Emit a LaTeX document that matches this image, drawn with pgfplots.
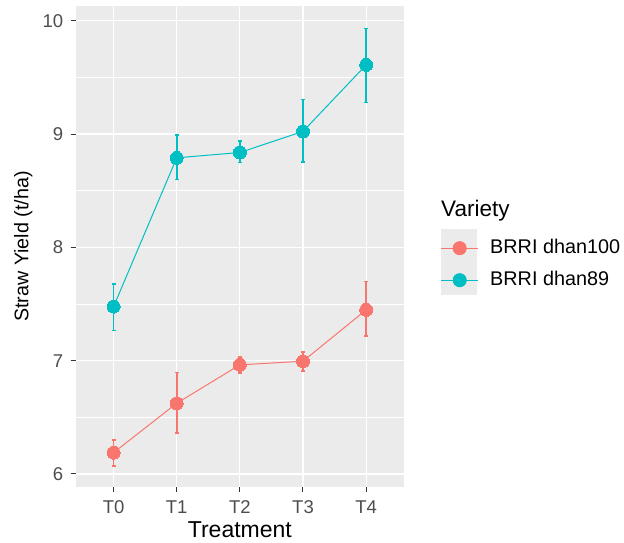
\documentclass[border=0pt]{standalone}
\usepackage{pgfplots}
\pgfplotsset{compat=1.18}
\usepackage{fontspec}
\setmainfont{Liberation Sans}
\definecolor{cA}{HTML}{F8766D}
\definecolor{cB}{HTML}{00BFC4}
\definecolor{panel}{HTML}{EBEBEB}
\definecolor{tickc}{HTML}{4D4D4D}
\definecolor{tickm}{HTML}{333333}
\begin{document}
\begin{tikzpicture}[x=1bp,y=1bp]
\path[use as bounding box] (0,0) rectangle (624,543);
\fill[panel] (440.7,248) rectangle (477.3,314);
\node[anchor=base west, inner sep=0pt, font=\fontsize{22.5bp}{26bp}\selectfont] at (441,326.3) {Variety};
\begin{axis}[
  at={(75.7bp,56bp)}, anchor=south west, scale only axis,
  width=328.3bp, height=481bp,
  xmin=-0.6, xmax=4.6, ymin=5.885, ymax=10.13,
  axis background/.style={fill=panel},
  axis line style={draw=none},
  xtick={0,1,2,3,4}, xticklabels={T0,T1,T2,T3,T4},
  ytick={6,7,8,9,10}, minor ytick={6.5,7.5,8.5,9.5},
  grid=both,
  major grid style={white, line width=1.1bp},
  minor grid style={white, line width=0.55bp},
  tick align=outside, tick pos=left,
  major tick length=5bp, minor tick length=0pt,
  every tick/.style={tickm, line width=1bp},
  /pgf/number format/assume math mode=true,
  yticklabel style={font=\fontsize{18.5bp}{22bp}\selectfont, text=tickc, inner sep=0pt, xshift=-7.4bp},
  xticklabel style={font=\fontsize{18.5bp}{22bp}\selectfont, text=tickc, inner sep=0pt, yshift=-8.7bp},
  xlabel={Treatment},
  xlabel style={at={(axis description cs:0.5,-0.1046)}, anchor=base, inner sep=0pt, font=\fontsize{23bp}{27bp}\selectfont},
  ylabel={Straw Yield (t/ha)},
  ylabel style={at={(axis description cs:-0.1444,0.5)}, anchor=base, inner sep=0pt, font=\fontsize{19.7bp}{23bp}\selectfont},
  legend style={at={(axis description cs:1.1118,0.5156)}, anchor=north west, draw=none, fill=none, inner sep=0pt, row sep=14bp, column sep=11.7bp,
    nodes={inner sep=0pt, text height=14bp, text depth=4bp, anchor=west, font=\fontsize{19.8bp}{23bp}\selectfont}},
  legend cell align=left,
]
\addplot[cA, line width=1bp, mark=*, mark size=6.5bp,
  mark options={solid, fill=cA, draw=cA, line width=0pt},
  legend image code/.code={\draw[cA, line width=1bp] (0bp,0bp) -- (36.6bp,0bp); \fill[cA] (18.3bp,0bp) circle (6.5bp);},
  error bars/.cd, y dir=both, y explicit,
  error bar style={line width=1.6bp, cA},
  error mark options={rotate=90, mark size=2bp, line width=1.6bp, cA}]
coordinates {
 (0,6.188) += (0,0.11) -= (0,0.12)
 (1,6.624) += (0,0.27) -= (0,0.26)
 (2,6.963) += (0,0.07) -= (0,0.07)
 (3,6.995) += (0,0.08) -= (0,0.085)
 (4,7.448) += (0,0.25) -= (0,0.23)
};
\addlegendentry{BRRI dhan100}
\addplot[cB, line width=1bp, mark=*, mark size=6.5bp,
  mark options={solid, fill=cB, draw=cB, line width=0pt},
  legend image code/.code={\draw[cB, line width=1bp] (0bp,0bp) -- (36.6bp,0bp); \fill[cB] (18.3bp,0bp) circle (6.5bp);},
  error bars/.cd, y dir=both, y explicit,
  error bar style={line width=1.6bp, cB},
  error mark options={rotate=90, mark size=2bp, line width=1.6bp, cB}]
coordinates {
 (0,7.477) += (0,0.20) -= (0,0.21)
 (1,8.790) += (0,0.20) -= (0,0.19)
 (2,8.837) += (0,0.10) -= (0,0.09)
 (3,9.023) += (0,0.28) -= (0,0.27)
 (4,9.610) += (0,0.32) -= (0,0.33)
};
\addlegendentry{BRRI dhan89}
\end{axis}
\end{tikzpicture}
\end{document}
